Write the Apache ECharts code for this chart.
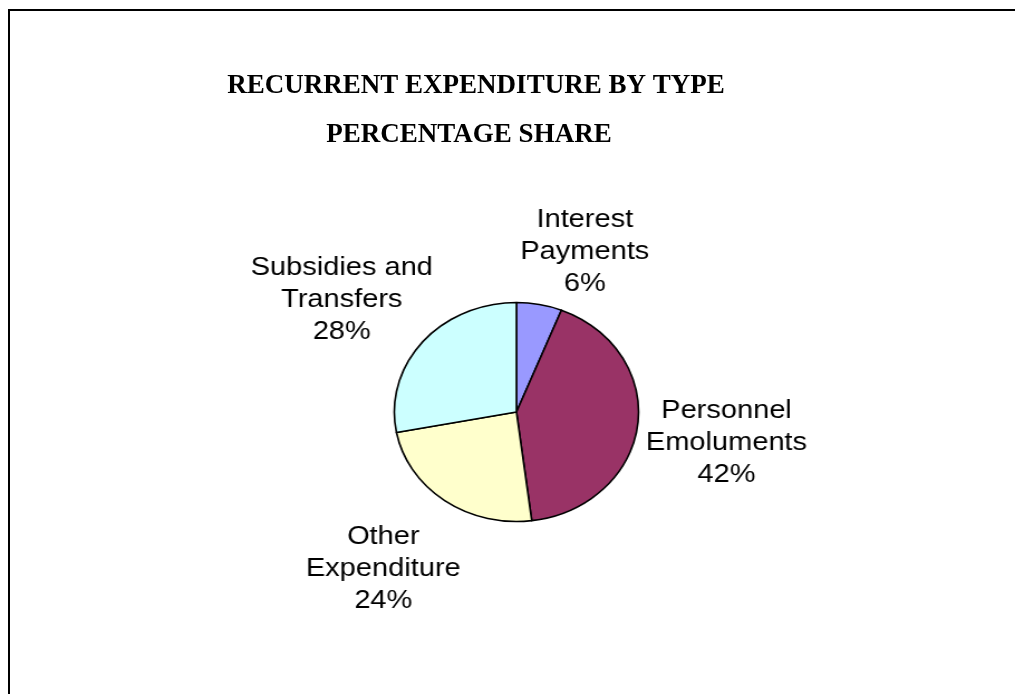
<!DOCTYPE html>
<html>
<head>
<meta charset="utf-8">
<script src="https://cdn.jsdelivr.net/npm/echarts@6/dist/echarts.min.js"></script>
<style>
  html, body { margin: 0; padding: 0; background: #ffffff; overflow: hidden; }
  #frame {
    position: absolute; left: 8px; top: 9px; width: 3000px; height: 3000px;
    border-top: 2px solid #000; border-left: 2px solid #000; box-sizing: border-box;
  }
  /* the pie and its labels are drawn on a slightly stretched canvas */
  #pie {
    position: absolute; left: 0; top: 0; width: 910px; height: 694px;
    transform: scaleX(1.1154); transform-origin: 0 0;
  }
  #head { position: absolute; left: 0; top: 0; width: 1015px; height: 694px; }
</style>
</head>
<body>
<div id="frame"></div>
<div id="pie"></div>
<div id="head"></div>
<script>
// Recurrent expenditure, percentage share by type
const categories = ['Interest Payments', 'Personnel Emoluments', 'Other Expenditure', 'Subsidies and Transfers'];
const shares = [6, 42, 24, 28];
const sliceColors = ['#9999FF', '#993366', '#FFFFCC', '#CCFFFF'];
const titleLines = ['RECURRENT EXPENDITURE BY TYPE', 'PERCENTAGE SHARE'];

// pie geometry (in the pie canvas) and where each label block sits, in radii from the centre
const pieCenter = [463, 412];
const pieRadius = 109.5;
const labelSpots = [[0.56, -1.465], [1.72, 0.28], [-1.09, 1.43], [-1.43, -1.02]];

// break a category name before its last word
function wrapName(name) {
  const i = name.lastIndexOf(' ');
  return i < 0 ? name : name.slice(0, i) + '\n' + name.slice(i + 1);
}

const pieChart = echarts.init(document.getElementById('pie'), null, { renderer: 'canvas' });
pieChart.setOption({
  backgroundColor: 'transparent',
  animation: false,
  series: [{
    type: 'pie',
    center: pieCenter,
    radius: pieRadius,
    startAngle: 90,
    clockwise: true,
    avoidLabelOverlap: false,
    data: categories.map((name, i) => ({
      name: name,
      value: shares[i],
      itemStyle: { color: sliceColors[i] }
    })),
    itemStyle: { borderColor: '#000000', borderWidth: 1.6 },
    emphasis: { disabled: true },
    label: {
      show: true,
      position: 'outside',
      formatter: p => wrapName(p.name) + '\n' + p.value + '%',
      fontFamily: '"Liberation Sans", Arial, sans-serif',
      fontSize: 26,
      lineHeight: 32,
      color: '#000000',
      align: 'center'
    },
    labelLine: { show: false },
    labelLayout: function (params) {
      const s = labelSpots[params.dataIndex];
      return {
        x: pieCenter[0] + s[0] * pieRadius,
        y: pieCenter[1] + s[1] * pieRadius,
        align: 'center',
        verticalAlign: 'middle'
      };
    }
  }]
});

const headChart = echarts.init(document.getElementById('head'), null, { renderer: 'canvas' });
const titleStyle = {
  fontFamily: '"Liberation Serif", "Times New Roman", serif',
  fontWeight: 'bold',
  fontSize: 27,
  lineHeight: 27,
  color: '#000000'
};
headChart.setOption({
  backgroundColor: 'transparent',
  animation: false,
  title: [
    { text: titleLines[0], left: 476, top: 73, textAlign: 'center', padding: 0, textStyle: titleStyle },
    { text: titleLines[1], left: 469, top: 122, textAlign: 'center', padding: 0, textStyle: titleStyle }
  ]
});
</script>
</body>
</html>
